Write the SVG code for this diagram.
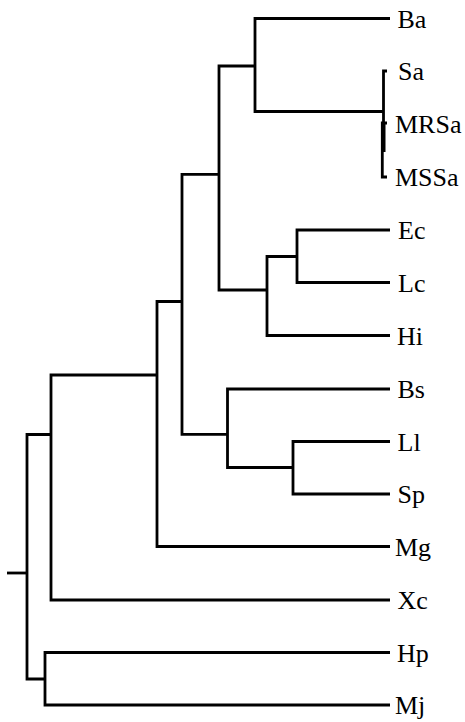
<svg xmlns="http://www.w3.org/2000/svg" width="465" height="722" viewBox="0 0 465 722">
  <style>
    .br { fill: none; stroke: #000; stroke-width: 2.8; stroke-linejoin: miter; stroke-linecap: butt; }
    .lbl { font-family: "Liberation Serif", "Times New Roman", serif; font-size: 26px; fill: #000; }
  </style>
  <rect width="465" height="722" fill="#fff"/>

  <!-- tree branches -->
  <g id="connectors">
    <!-- root stem and basal split -->
    <path class="br" d="M7,573 H27"/>
    <path class="br" d="M51,434.5 H27 V679 H45"/>
    <!-- Hp / Mj -->
    <path class="br" d="M390,652.5 H45 V705 H390"/>
    <!-- Xc vs rest -->
    <path class="br" d="M157,375 H51 V600 H390"/>
    <!-- Mg vs rest -->
    <path class="br" d="M182,301.5 H157 V546.5 H390"/>
    <!-- two main clades -->
    <path class="br" d="M219,174.3 H182 V434.3 H227.5"/>
    <!-- Bs + (Ll, Sp) -->
    <path class="br" d="M390,389 H227.5 V467.5 H293"/>
    <path class="br" d="M390,441.5 H293 V494 H390"/>
    <!-- Ba/Sa clade vs Ec,Lc,Hi -->
    <path class="br" d="M255,66 H219 V290 H267"/>
    <path class="br" d="M390,18.5 H255 V111.5 H383.5"/>
    <path class="br" d="M390,335.5 H267 V256.5 H297"/>
    <path class="br" d="M390,230 H297 V282.5 H390"/>
    <!-- Sa, MRSa, MSSa -->
    <path class="br" d="M387,71 H383.5 V152"/>
    <path class="br" d="M387,123 H382.3 V177 H387"/>
    <path class="br" d="M383.5,123 V152" style="stroke-width:4"/>
  </g>

  <g id="leaf-Ba"><text class="lbl" x="397.5" y="27.5">Ba</text></g>
  <g id="leaf-Sa"><text class="lbl" x="398" y="80">Sa</text></g>
  <g id="leaf-MRSa"><text class="lbl" x="395" y="132.5">MRSa</text></g>
  <g id="leaf-MSSa"><text class="lbl" x="395" y="186">MSSa</text></g>
  <g id="leaf-Ec"><text class="lbl" x="398" y="239">Ec</text></g>
  <g id="leaf-Lc"><text class="lbl" x="398" y="291.5">Lc</text></g>
  <g id="leaf-Hi"><text class="lbl" x="397" y="344.5">Hi</text></g>
  <g id="leaf-Bs"><text class="lbl" x="397.5" y="398">Bs</text></g>
  <g id="leaf-Ll"><text class="lbl" x="397.5" y="450.5">Ll</text></g>
  <g id="leaf-Sp"><text class="lbl" x="397.5" y="503">Sp</text></g>
  <g id="leaf-Mg"><text class="lbl" x="395" y="555.5">Mg</text></g>
  <g id="leaf-Xc"><text class="lbl" x="397.5" y="609">Xc</text></g>
  <g id="leaf-Hp"><text class="lbl" x="397" y="661.5">Hp</text></g>
  <g id="leaf-Mj"><text class="lbl" x="395" y="714">Mj</text></g>
</svg>
